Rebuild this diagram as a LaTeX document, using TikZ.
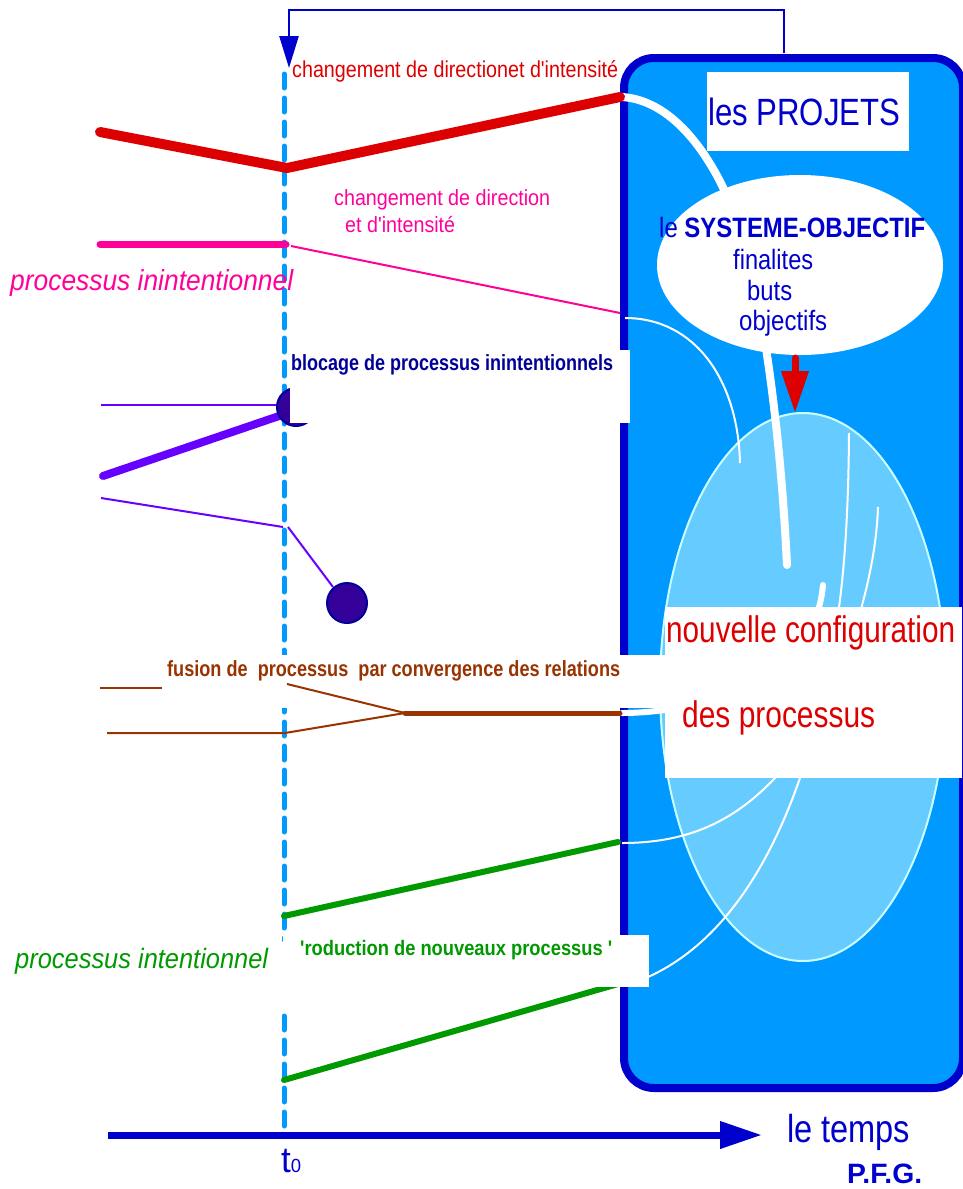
\documentclass[tikz,border=0pt]{standalone}
\usepackage{fontspec}
\setmainfont{Liberation Sans}
\usepackage{graphicx}
\usetikzlibrary{arrows.meta}
\definecolor{navy}{HTML}{0000CC}
\definecolor{dnavy}{HTML}{000099}
\definecolor{skyb}{HTML}{0099FF}
\definecolor{lightb}{HTML}{66CCFF}
\definecolor{paleb}{HTML}{CCFFFF}
\definecolor{pred}{HTML}{DD0000}
\definecolor{ppink}{HTML}{FF0099}
\definecolor{ppurple}{HTML}{6600FF}
\definecolor{dpurple}{HTML}{330099}
\definecolor{pbrown}{HTML}{993300}
\definecolor{pgreen}{HTML}{009900}
\newcommand\fw[2]{\resizebox{#1}{\height}{#2}}
\newcommand\fs[1]{\fontsize{#1}{#1}\selectfont}
\begin{document}
\begin{tikzpicture}[x=1pt,y=-1pt,
  lbl/.style={inner sep=0pt, anchor=base west},
  wbox/.style={fill=white, draw=none, inner sep=0pt, anchor=north west},
  dashline/.style={draw=skyb, line width=5pt, line cap=round, dash pattern=on 14pt off 10pt},
  conn/.style={draw=navy, line width=2.5pt},
  wthick/.style={draw=white, line width=8pt, line cap=round},
  wthin/.style={draw=white, line width=2pt},
  proc/.style={line cap=round, line join=round}]
\useasboundingbox (0,0) rectangle (962,1189);

% top connector
\coordinate (ctop) at (784,53);
\coordinate (carr) at (289,68);
\draw[conn, -{Triangle[length=32pt,width=19pt]}] (ctop) -- (784,10) -| (carr);

% dashed time line t0
\coordinate (d1) at (284,74);
\coordinate (d2) at (284,940);
\coordinate (d3) at (284,1016);
\coordinate (d4) at (284,1132);
\draw[dashline] (d1) -- (d2);
\draw[dashline] (d3) -- (d4);

% big blue box
\node[draw=navy, fill=skyb, line width=8pt, rounded corners=30pt, minimum width=339pt, minimum height=1030pt, inner sep=0pt, anchor=north west] (projbox) at (620,54) {};

% light ellipse
\draw[fill=lightb, draw=paleb, line width=2pt] (803,687) ellipse [x radius=143pt, y radius=274pt];

% white curves
\coordinate (wr0) at (622,97);
\draw[wthick] (wr0) .. controls (670,100) and (710,150) .. (735,215) .. controls (760,280) and (780,420) .. (787,565);
\coordinate (wp0) at (625,318);
\draw[wthin] (wp0) .. controls (695,318) and (738,380) .. (740,463);
\coordinate (wg0) at (622,843);
\draw[wthin] (849,433) .. controls (848,580) and (835,720) .. (775,778) .. controls (735,820) and (690,843) .. (wg0);
\coordinate (wg1) at (620,985);
\draw[wthin] (878,507) .. controls (875,600) and (830,700) .. (800,778) .. controls (775,850) and (730,940) .. (648,977) -- (wg1);
\coordinate (wb0) at (622,713);
\draw[draw=white, line width=6pt, line cap=round] (wb0) .. controls (700,713) and (815,680) .. (823,585);

% systeme-objectif ellipse
\fill[white] (800,265) ellipse [x radius=143pt, y radius=90pt];
\node[lbl, text=navy, font=\fs{28}] (sys) at (659,237) {\fw{266pt}{le \textbf{SYSTEME-OBJECTIF}}};
\node[lbl, text=navy, font=\fs{28}] (fin) at (733,269) {\fw{80pt}{finalites}};
\node[lbl, text=navy, font=\fs{28}] (buts) at (747,300) {\fw{45pt}{buts}};
\node[lbl, text=navy, font=\fs{28}] (obj) at (739,330) {\fw{88pt}{objectifs}};

% red arrow
\coordinate (ra0) at (795,358);
\coordinate (ra1) at (795,413);
\draw[pred, line width=7pt, line cap=round, -{Triangle[length=42pt,width=26pt]}] (ra0) -- (ra1);

% les PROJETS
\node[wbox, minimum width=202pt, minimum height=79pt] (projbg) at (707,72) {};
\node[lbl, text=navy, font=\fs{38}] (proj) at (708,125) {\fw{192pt}{les PROJETS}};

% red process
\coordinate (r0) at (100,132);
\coordinate (r1) at (287,168);
\coordinate (r2) at (620,97);
\draw[pred, proc, line width=10pt] (r0) -- (r1) -- (r2);
\node[lbl, text=pred, font=\fs{23}] (lr) at (292,77) {\fw{326pt}{changement de directionet d\textquotesingle intensité}};

% pink process
\coordinate (p0) at (100,244);
\coordinate (p1) at (286,244);
\coordinate (p2) at (291,246);
\coordinate (p3) at (620,313);
\draw[ppink, proc, line width=7pt] (p0) -- (p1);
\draw[ppink, line width=2pt] (p2) -- (p3);
\node[lbl, text=ppink, font=\fs{22}] (lp1) at (334,205) {\fw{216pt}{changement de direction}};
\node[lbl, text=ppink, font=\fs{22}] (lp2) at (345,232) {\fw{110pt}{et d\textquotesingle intensité}};
\node[lbl, text=ppink, font=\fs{29}\itshape] (lpi) at (10,290) {\fw{283pt}{processus inintentionnel}};

% purple processes
\coordinate (u0) at (101,405);
\coordinate (u1) at (280,405);
\coordinate (u2) at (103,476);
\coordinate (u3) at (282,415);
\coordinate (u4) at (101,498);
\coordinate (u5) at (283,527);
\coordinate (u6) at (288,527);
\coordinate (u7) at (333,587);
\draw[ppurple, line width=2pt] (u0) -- (u1);
\draw[ppurple, proc, line width=8pt] (u2) -- (u3);
\draw[ppurple, line width=2pt] (u4) -- (u5);
\draw[ppurple, line width=2pt] (u6) -- (u7);
\draw[fill=dpurple, draw=dnavy, line width=2pt] (296,407) circle [radius=19pt];
\draw[fill=dpurple, draw=dnavy, line width=2pt] (347,603) circle [radius=20pt];

% green processes
\coordinate (g0) at (284,916);
\coordinate (g1) at (618,842);
\coordinate (g2) at (284,1080);
\coordinate (g3) at (618,984);
\draw[pgreen, proc, line width=6pt] (g0) -- (g1);
\draw[pgreen, proc, line width=6pt] (g2) -- (g3);

% brown processes (left parts)
\coordinate (b0) at (100,688);
\coordinate (b1) at (167,688);
\draw[pbrown, line width=2pt] (b0) -- (b1);

% white label boxes
\node[wbox, minimum width=340pt, minimum height=73pt] (blocbg) at (290,350) {};
\node[wbox, minimum width=503pt, minimum height=53pt] (fusbg) at (162,655) {};
\node[wbox, minimum width=366pt, minimum height=52pt] (prodbg) at (283,935) {};
\node[wbox, minimum width=297pt, minimum height=171pt] (nouvbg) at (665,607) {};

% brown processes (fusion)
\coordinate (b2) at (287,684);
\coordinate (b3) at (405,713);
\coordinate (b4) at (107,733);
\coordinate (b5) at (285,733);
\coordinate (b6) at (620,713);
\draw[pbrown, line width=2pt] (b2) -- (b3);
\draw[pbrown, line width=2pt] (b4) -- (b5) -- (b3);
\draw[pbrown, proc, line width=5pt] (b3) -- (b6);

% labels
\node[lbl, text=dnavy, font=\fs{22}\bfseries] (lbloc) at (291,370) {\fw{322pt}{blocage de processus inintentionnels}};
\node[lbl, text=pbrown, font=\fs{22}\bfseries] (lfus) at (167,676) {\fw{453pt}{fusion de~ processus~ par convergence des relations}};
\node[lbl, text=pgreen, font=\fs{21}\bfseries] (lprod) at (300,955) {\fw{312pt}{\textquotesingle roduction de nouveaux processus \textquotesingle}};
\node[lbl, text=pgreen, font=\fs{28}\itshape] (lpint) at (15,968) {\fw{253pt}{processus intentionnel}};
\node[lbl, text=pred, font=\fs{37}] (lnouv1) at (666,642) {\fw{289pt}{nouvelle configuration}};
\node[lbl, text=pred, font=\fs{37}] (lnouv2) at (682,727) {\fw{193pt}{des processus}};

% time axis
\coordinate (a0) at (108,1135);
\coordinate (a1) at (762,1135);
\draw[navy, line width=7pt, -{Triangle[length=42pt,width=26pt]}] (a0) -- (a1);
\node[lbl, text=navy, font=\fs{39}] (ltemps) at (787,1142) {\fw{123pt}{le temps}};
\node[lbl, text=navy, font=\fs{36}] (lt0) at (281,1172) {\fw{20pt}{t{\fs{19}0}}};
\node[lbl, text=navy, font=\fs{28}\bfseries] (lpfg) at (847,1183) {\fw{75pt}{P.F.G.}};
\end{tikzpicture}
\end{document}
